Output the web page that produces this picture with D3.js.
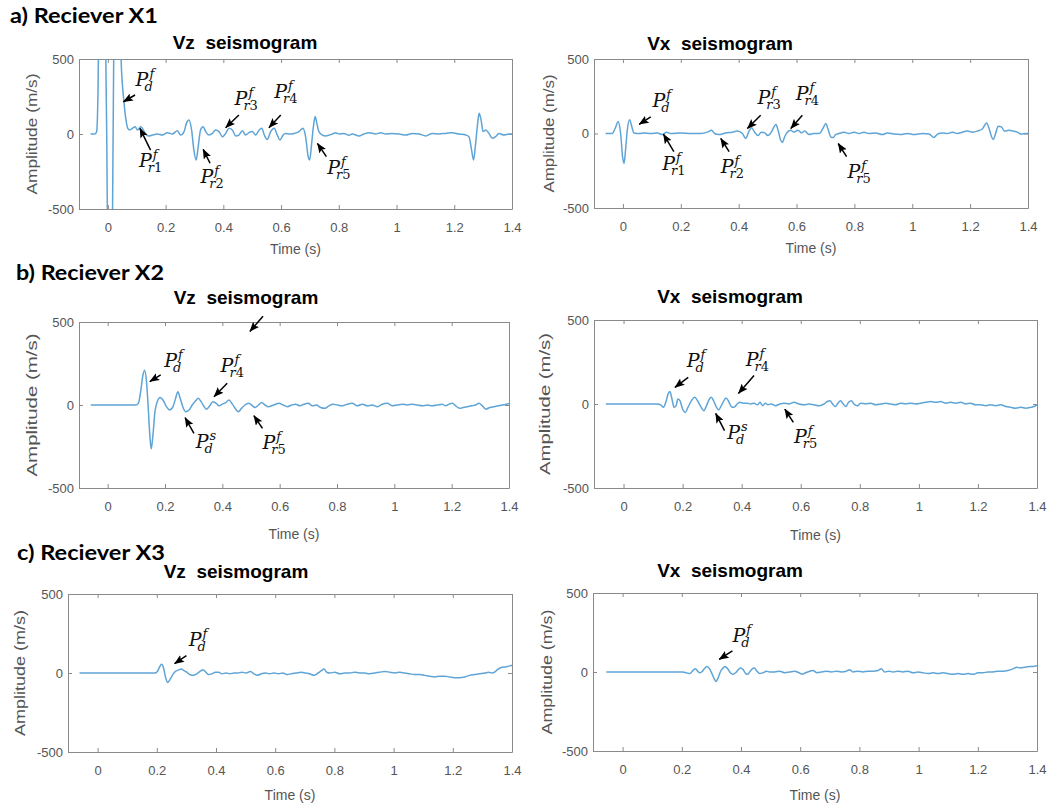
<!DOCTYPE html>
<html>
<head>
<meta charset="utf-8">
<script src="https://cdn.jsdelivr.net/npm/d3@7"></script>
<style>
body { margin: 0; background: #fff; }
.tick text { font-family: "Liberation Sans", Arial, sans-serif; font-size: 13px; fill: #555; }
.lab { font-family: "Liberation Sans", Arial, sans-serif; font-size: 14px; fill: #555; }
.ttl { font-family: "Liberation Sans", Arial, sans-serif; font-size: 19px; font-weight: bold; fill: #000; }
.head { font-family: Lato, "Open Sans", sans-serif; font-size: 20px; font-weight: bold; fill: #000; }
.sym { font-family: "DejaVu Serif", serif; font-style: italic; font-size: 19px; fill: #111; }
.sm { font-size: 13px; }
</style>
</head>
<body>
<svg id="fig" width="1055" height="807"></svg>
<script>
// ticks
var timeTicks = [0, 0.2, 0.4, 0.6, 0.8, 1, 1.2, 1.4];
var ampTicks = [-500, 0, 500];

// traces, [time (s), amplitude (m/s)]
var vzX1 = [[-0.060,0],[-0.045,0],[-0.039,15],[-0.034,300],[-0.028,1400],[-0.020,2200],[-0.012,1300],[-0.004,0],[0.003,-1600],[0.008,-2200],[0.013,-1300],[0.019,200],[0.025,1600],[0.032,2200],[0.039,1500],[0.045,560],[0.050,340],[0.054,249],[0.062,104],[0.069,38],[0.076,27],[0.085,38],[0.094,49],[0.103,27],[0.114,49],[0.122,31],[0.131,0],[0.142,-13],[0.154,-7],[0.171,0],[0.189,-7],[0.206,9],[0.223,0],[0.241,22],[0.252,-7],[0.264,16],[0.272,71],[0.281,93],[0.290,27],[0.298,-107],[0.306,-173],[0.313,-84],[0.321,27],[0.330,49],[0.339,16],[0.350,-7],[0.362,4],[0.373,27],[0.385,16],[0.397,-18],[0.408,4],[0.420,38],[0.431,27],[0.443,-13],[0.454,-7],[0.466,22],[0.477,-7],[0.489,9],[0.500,16],[0.512,-7],[0.524,27],[0.533,38],[0.542,-7],[0.552,-36],[0.564,16],[0.576,38],[0.587,-7],[0.596,-40],[0.607,-7],[0.616,4],[0.627,0],[0.645,4],[0.662,16],[0.676,38],[0.685,-18],[0.694,-151],[0.699,-173],[0.706,-62],[0.712,49],[0.718,116],[0.724,71],[0.731,16],[0.743,-7],[0.754,-13],[0.778,0],[0.789,9],[0.801,0],[0.818,4],[0.835,-9],[0.847,0],[0.870,-13],[0.887,0],[0.905,9],[0.928,0],[0.945,9],[0.962,0],[0.985,4],[1.009,0],[1.032,-7],[1.055,4],[1.078,0],[1.101,-13],[1.124,4],[1.147,0],[1.170,4],[1.193,9],[1.216,0],[1.240,-7],[1.251,-18],[1.260,-107],[1.267,-173],[1.274,-62],[1.281,71],[1.286,138],[1.293,93],[1.300,16],[1.309,27],[1.320,4],[1.332,-29],[1.343,-18],[1.355,4],[1.372,-7],[1.390,0],[1.400,0]];

var vxX1 = [[-0.060,0],[-0.037,0],[-0.025,44],[-0.017,80],[-0.008,0],[-0.001,-160],[0.004,-200],[0.009,-111],[0.015,22],[0.023,93],[0.031,44],[0.038,4],[0.056,0],[0.073,4],[0.096,0],[0.119,4],[0.136,-7],[0.151,9],[0.165,0],[0.200,4],[0.234,0],[0.269,0],[0.292,9],[0.306,22],[0.317,0],[0.332,-7],[0.355,4],[0.378,9],[0.395,16],[0.413,0],[0.424,-33],[0.436,16],[0.445,38],[0.455,9],[0.467,-13],[0.478,9],[0.490,4],[0.501,-13],[0.513,9],[0.522,44],[0.529,60],[0.537,16],[0.545,-44],[0.551,-60],[0.559,-22],[0.568,9],[0.580,22],[0.591,9],[0.605,22],[0.617,4],[0.628,16],[0.643,-7],[0.660,0],[0.678,0],[0.693,40],[0.701,67],[0.710,22],[0.718,-22],[0.727,-27],[0.735,-7],[0.747,0],[0.764,9],[0.781,0],[0.799,9],[0.816,0],[0.833,9],[0.850,0],[0.873,4],[0.897,-7],[0.914,4],[0.937,-4],[0.960,-7],[0.983,0],[1.006,-7],[1.035,0],[1.058,-4],[1.075,-27],[1.087,-4],[1.104,4],[1.121,0],[1.139,9],[1.156,0],[1.173,9],[1.190,16],[1.208,9],[1.225,16],[1.242,30],[1.257,70],[1.266,30],[1.274,-22],[1.280,-40],[1.288,0],[1.297,49],[1.308,44],[1.319,16],[1.334,22],[1.349,16],[1.363,9],[1.377,-4],[1.392,0],[1.400,0]];

var vzX2 = [[-0.059,0],[0.016,0],[0.098,0],[0.107,10],[0.115,80],[0.123,180],[0.129,210],[0.135,150],[0.141,0],[0.147,-180],[0.152,-265],[0.158,-180],[0.165,-40],[0.173,20],[0.183,45],[0.193,30],[0.205,-10],[0.216,-30],[0.228,-10],[0.237,40],[0.245,80],[0.253,40],[0.263,-15],[0.272,-40],[0.284,-30],[0.295,0],[0.307,25],[0.316,40],[0.326,20],[0.335,-5],[0.344,-25],[0.356,-5],[0.367,20],[0.379,10],[0.388,-5],[0.400,5],[0.412,15],[0.423,30],[0.435,5],[0.447,-25],[0.456,-40],[0.467,-20],[0.479,0],[0.491,10],[0.502,0],[0.514,-15],[0.526,0],[0.537,15],[0.549,0],[0.560,-10],[0.572,-5],[0.586,5],[0.598,10],[0.612,0],[0.627,-10],[0.642,0],[0.656,5],[0.670,-5],[0.685,5],[0.700,10],[0.714,-5],[0.728,0],[0.743,-15],[0.758,-20],[0.772,-5],[0.786,5],[0.801,0],[0.819,-5],[0.836,5],[0.853,10],[0.871,-5],[0.888,5],[0.906,-5],[0.923,0],[0.941,-10],[0.958,5],[0.976,10],[0.993,-5],[1.010,0],[1.028,5],[1.045,0],[1.063,5],[1.080,0],[1.098,-5],[1.115,0],[1.133,-5],[1.150,0],[1.167,5],[1.179,-5],[1.191,5],[1.202,10],[1.214,-5],[1.228,-20],[1.240,-15],[1.255,-10],[1.270,-5],[1.284,0],[1.295,10],[1.307,-5],[1.319,-25],[1.333,-15],[1.348,-10],[1.363,-5],[1.377,0],[1.391,5],[1.400,10]];

var vxX2 = [[-0.060,0],[0.114,0],[0.126,-5],[0.135,-20],[0.143,10],[0.151,60],[0.157,75],[0.164,30],[0.171,-20],[0.178,-10],[0.184,30],[0.191,20],[0.200,-30],[0.209,-50],[0.218,-20],[0.230,20],[0.241,40],[0.252,15],[0.263,-20],[0.272,-40],[0.281,-10],[0.291,30],[0.297,40],[0.306,15],[0.315,-20],[0.322,-35],[0.331,-10],[0.340,20],[0.347,35],[0.356,15],[0.365,-15],[0.374,-20],[0.385,0],[0.394,10],[0.406,5],[0.419,5],[0.430,0],[0.442,5],[0.453,-5],[0.462,10],[0.471,-10],[0.480,5],[0.489,-5],[0.500,0],[0.515,-10],[0.530,0],[0.543,5],[0.560,0],[0.577,10],[0.594,0],[0.611,-5],[0.628,0],[0.645,-5],[0.662,-10],[0.679,0],[0.690,15],[0.699,20],[0.708,0],[0.717,-15],[0.726,5],[0.735,20],[0.744,0],[0.753,-15],[0.762,10],[0.771,20],[0.780,0],[0.792,-10],[0.803,5],[0.820,0],[0.837,5],[0.854,-5],[0.871,0],[0.888,5],[0.904,0],[0.921,-5],[0.938,5],[0.955,0],[0.972,5],[0.989,0],[1.006,5],[1.023,10],[1.040,15],[1.057,10],[1.074,15],[1.091,5],[1.108,10],[1.125,5],[1.142,10],[1.159,0],[1.175,5],[1.192,-5],[1.209,-5],[1.226,-10],[1.243,-5],[1.260,-10],[1.277,-5],[1.294,-15],[1.311,-20],[1.328,-25],[1.345,-20],[1.362,-25],[1.379,-20],[1.390,-15],[1.400,-5]];

var vzX3 = [[-0.061,0],[0.193,0],[0.202,10],[0.210,40],[0.216,55],[0.223,30],[0.230,-30],[0.237,-60],[0.245,-40],[0.254,-10],[0.263,10],[0.274,20],[0.283,25],[0.292,15],[0.301,5],[0.312,-10],[0.323,-15],[0.335,-5],[0.346,10],[0.356,20],[0.366,5],[0.375,-10],[0.386,-5],[0.398,5],[0.409,5],[0.420,-5],[0.434,0],[0.447,-5],[0.461,0],[0.474,0],[0.488,5],[0.502,0],[0.517,10],[0.528,-5],[0.540,-15],[0.553,-5],[0.567,0],[0.581,-5],[0.596,0],[0.612,-5],[0.626,0],[0.641,-10],[0.654,-5],[0.671,0],[0.688,5],[0.702,0],[0.716,-5],[0.731,-15],[0.745,0],[0.756,15],[0.765,25],[0.774,5],[0.785,0],[0.801,5],[0.818,-5],[0.835,0],[0.852,0],[0.868,5],[0.885,0],[0.902,0],[0.919,-5],[0.936,0],[0.953,5],[0.970,10],[0.987,5],[1.004,0],[1.021,5],[1.037,0],[1.054,-5],[1.071,-10],[1.088,-10],[1.105,-15],[1.122,-20],[1.139,-25],[1.156,-20],[1.173,-20],[1.189,-25],[1.206,-30],[1.223,-30],[1.240,-25],[1.257,-15],[1.274,-10],[1.291,-5],[1.308,0],[1.321,5],[1.332,0],[1.341,5],[1.353,25],[1.364,35],[1.381,40],[1.392,45],[1.400,50]];

var vxX3 = [[-0.055,0],[0.204,0],[0.215,-5],[0.227,-10],[0.238,10],[0.246,20],[0.254,5],[0.260,-5],[0.267,0],[0.276,20],[0.285,35],[0.294,20],[0.303,-15],[0.310,-45],[0.316,-60],[0.322,-40],[0.330,0],[0.339,25],[0.346,35],[0.355,20],[0.364,-5],[0.373,-15],[0.382,-5],[0.391,15],[0.399,25],[0.407,15],[0.416,-10],[0.423,-15],[0.429,0],[0.438,20],[0.445,25],[0.454,5],[0.463,-10],[0.474,-5],[0.486,5],[0.497,0],[0.514,0],[0.531,5],[0.548,-5],[0.564,0],[0.581,5],[0.596,-5],[0.607,-15],[0.618,-5],[0.632,5],[0.643,10],[0.657,-5],[0.671,0],[0.688,5],[0.705,0],[0.722,5],[0.739,0],[0.756,5],[0.767,15],[0.778,0],[0.795,5],[0.812,0],[0.829,5],[0.846,5],[0.863,10],[0.874,20],[0.885,0],[0.900,5],[0.914,0],[0.930,5],[0.947,0],[0.964,5],[0.981,-5],[0.998,0],[1.015,-5],[1.032,-10],[1.049,-5],[1.066,-10],[1.082,-5],[1.099,-10],[1.116,-15],[1.133,-10],[1.150,-15],[1.167,-10],[1.184,-15],[1.201,-5],[1.218,-5],[1.234,0],[1.251,0],[1.268,5],[1.285,5],[1.302,10],[1.319,20],[1.332,30],[1.344,25],[1.358,30],[1.375,35],[1.386,35],[1.400,40]];

// phase labels: label anchor, arrow head, arrow tail (data coords)
var notesVzX1 = [
  {sup:"f", sub:"d",  at:[0.096,320],  head:[0.054,215],  tail:[0.094,260]},
  {sup:"f", sub:"r1", at:[0.108,-222], head:[0.111,38],   tail:[0.148,-107]},
  {sup:"f", sub:"r2", at:[0.321,-324], head:[0.330,-102], tail:[0.354,-195]},
  {sup:"f", sub:"r3", at:[0.439,193],  head:[0.408,42],   tail:[0.454,127]},
  {sup:"f", sub:"r4", at:[0.576,238],  head:[0.558,42],   tail:[0.599,127]},
  {sup:"f", sub:"r5", at:[0.760,-266], head:[0.726,-62],  tail:[0.757,-151]}
];
var notesVxX1 = [
  {sup:"f", sub:"d",  at:[0.102,178],  head:[0.056,62],   tail:[0.096,111]},
  {sup:"f", sub:"r1", at:[0.136,-244], head:[0.140,-4],   tail:[0.176,-122]},
  {sup:"f", sub:"r2", at:[0.338,-262], head:[0.338,-33],  tail:[0.367,-122]},
  {sup:"f", sub:"r3", at:[0.465,200],  head:[0.430,33],   tail:[0.476,122]},
  {sup:"f", sub:"r4", at:[0.597,226],  head:[0.580,33],   tail:[0.620,122]},
  {sup:"f", sub:"r5", at:[0.776,-300], head:[0.744,-67],  tail:[0.773,-155]}
];
var notesVzX2 = [
  {sup:"f", sub:"d",  at:[0.197,231],  head:[0.147,141],  tail:[0.185,181]},
  {sup:"f", sub:"r4", at:[0.394,201],  head:[0.371,50],   tail:[0.417,131]},
  {sup:"s", sub:"d",  at:[0.307,-257], head:[0.270,-76],  tail:[0.301,-171]},
  {sup:"f", sub:"r5", at:[0.540,-267], head:[0.510,-64],  tail:[0.540,-141]},
  {head:[0.496,443], tail:[0.542,534]}
];
var notesVxX2 = [
  {sup:"f", sub:"d",  at:[0.214,218],  head:[0.174,99],   tail:[0.219,159]},
  {sup:"f", sub:"r4", at:[0.414,228],  head:[0.389,63],   tail:[0.442,169]},
  {sup:"s", sub:"d",  at:[0.351,-208], head:[0.312,-56],  tail:[0.342,-159]},
  {sup:"f", sub:"r5", at:[0.577,-234], head:[0.546,-30],  tail:[0.575,-109]}
];
var notesVzX3 = [{sup:"f", sub:"d", at:[0.308,169], head:[0.260,59], tail:[0.300,110]}];
var notesVxX3 = [{sup:"f", sub:"d", at:[0.371,190], head:[0.326,80], tail:[0.371,133]}];

var headings = ["a) Reciever X1", "b) Reciever X2", "c) Reciever X3"];

// layout of the six axes
var panels = [
  {id:"a1", data:vzX1, notes:notesVzX1, title:"Vz\u00a0 seismogram", x0:79,  x1:512,  y0:59,  y1:209, tx:245, ty:49,  lx:37,  lLen:121, xo:45},
  {id:"a2", data:vxX1, notes:notesVxX1, title:"Vx\u00a0 seismogram", x0:594, x1:1028, y0:59,  y1:208, tx:720, ty:50,  lx:554, lLen:118, xo:45},
  {id:"b1", data:vzX2, notes:notesVzX2, title:"Vz\u00a0 seismogram", x0:79,  x1:509,  y0:322, y1:488, tx:246, ty:304, lx:37,  lLen:143, xo:51},
  {id:"b2", data:vxX2, notes:notesVxX2, title:"Vx\u00a0 seismogram", x0:594, x1:1037, y0:320, y1:488, tx:730, ty:303, lx:550, lLen:142, xo:52},
  {id:"c1", data:vzX3, notes:notesVzX3, title:"Vz\u00a0 seismogram", x0:68,  x1:512,  y0:594, y1:752, tx:236, ty:578, lx:25,  lLen:126, xo:48},
  {id:"c2", data:vxX3, notes:notesVxX3, title:"Vx\u00a0 seismogram", x0:593, x1:1037, y0:593, y1:751, tx:730, ty:577, lx:552, lLen:125, xo:49}
];
var headPos = [[10, 23], [16, 280], [17, 560]];

var svg = d3.select("#fig");
var defs = svg.append("defs");
defs.append("marker")
    .attr("id", "arrow")
    .attr("markerUnits", "userSpaceOnUse")
    .attr("viewBox", "0 0 10 8")
    .attr("markerWidth", 10)
    .attr("markerHeight", 8)
    .attr("refX", 9.5)
    .attr("refY", 4)
    .attr("orient", "auto")
    .append("path")
    .attr("d", "M0,0 L10,4 L0,8 L2,4 z")
    .attr("fill", "#000");

headings.forEach(function (h, i) {
    svg.append("text")
        .attr("class", "head")
        .attr("x", headPos[i][0])
        .attr("y", headPos[i][1])
        .attr("textLength", 148)
        .attr("lengthAdjust", "spacingAndGlyphs")
        .text(h);
});

function styleAxis(sel) {
    sel.select(".domain").attr("stroke", "#8a8a8a").attr("stroke-width", 1);
    sel.selectAll(".tick line").attr("stroke", "#8a8a8a");
}

panels.forEach(function (p) {
    var x = d3.scaleLinear().domain([-0.1, 1.4]).range([p.x0, p.x1]);
    var y = d3.scaleLinear().domain([-500, 500]).range([p.y1, p.y0]);
    var g = svg.append("g");

    defs.append("clipPath").attr("id", "clip" + p.id)
        .append("rect")
        .attr("x", p.x0).attr("y", p.y0)
        .attr("width", p.x1 - p.x0).attr("height", p.y1 - p.y0);

    g.append("g").attr("transform", "translate(0," + p.y1 + ")")
        .call(d3.axisBottom(x).tickValues(timeTicks).tickSizeInner(-4).tickSizeOuter(0).tickPadding(14).tickFormat(d3.format("~g")))
        .call(styleAxis);
    g.append("g").attr("transform", "translate(0," + p.y0 + ")")
        .call(d3.axisTop(x).tickValues(timeTicks).tickSizeInner(-4).tickSizeOuter(0).tickFormat(""))
        .call(styleAxis);
    g.append("g").attr("transform", "translate(" + p.x0 + ",0)")
        .call(d3.axisLeft(y).tickValues(ampTicks).tickSizeInner(-4).tickSizeOuter(0).tickPadding(5).tickFormat(function (d) { return String(d); }))
        .call(styleAxis);
    g.append("g").attr("transform", "translate(" + p.x1 + ",0)")
        .call(d3.axisRight(y).tickValues(ampTicks).tickSizeInner(-4).tickSizeOuter(0).tickFormat(""))
        .call(styleAxis);
    g.selectAll(".tick text").attr("fill", "#555");

    g.append("path")
        .datum(p.data)
        .attr("clip-path", "url(#clip" + p.id + ")")
        .attr("d", d3.line().x(function (d) { return x(d[0]); }).y(function (d) { return y(d[1]); }).curve(d3.curveMonotoneX))
        .attr("fill", "none")
        .attr("stroke", "#5fa4d6")
        .attr("stroke-width", 1.5);

    g.append("text").attr("class", "ttl").attr("x", p.tx).attr("y", p.ty)
        .attr("text-anchor", "middle").text(p.title);

    g.append("text").attr("class", "lab")
        .attr("x", (p.x0 + p.x1) / 2).attr("y", p.y1 + p.xo)
        .attr("text-anchor", "middle").text("Time (s)");

    var cy = (p.y0 + p.y1) / 2;
    g.append("text").attr("class", "lab")
        .attr("transform", "translate(" + p.lx + "," + cy + ") rotate(-90)")
        .attr("text-anchor", "middle")
        .attr("textLength", p.lLen)
        .attr("lengthAdjust", "spacingAndGlyphs")
        .text("Amplitude (m/s)");

    p.notes.forEach(function (n) {
        g.append("line")
            .attr("x1", x(n.tail[0])).attr("y1", y(n.tail[1]))
            .attr("x2", x(n.head[0])).attr("y2", y(n.head[1]))
            .attr("stroke", "#000").attr("stroke-width", 1.5)
            .attr("marker-end", "url(#arrow)");
        if (!n.at) return;
        // one text: P, subscript, then superscript pulled back over it
        var t = g.append("text").attr("class", "sym")
            .attr("x", x(n.at[0])).attr("y", y(n.at[1]));
        t.append("tspan").text("P");
        var sub = t.append("tspan").attr("class", "sm").attr("dx", -4).attr("dy", 5);
        sub.append("tspan").text(n.sub[0]);
        if (n.sub.length > 1) sub.append("tspan").style("font-style", "normal").text(n.sub.slice(1));
        var w = sub.node().getComputedTextLength();
        t.append("tspan").attr("class", "sm").attr("dx", 5 - w).attr("dy", -13).text(n.sup);
    });
});
</script>
</body>
</html>
